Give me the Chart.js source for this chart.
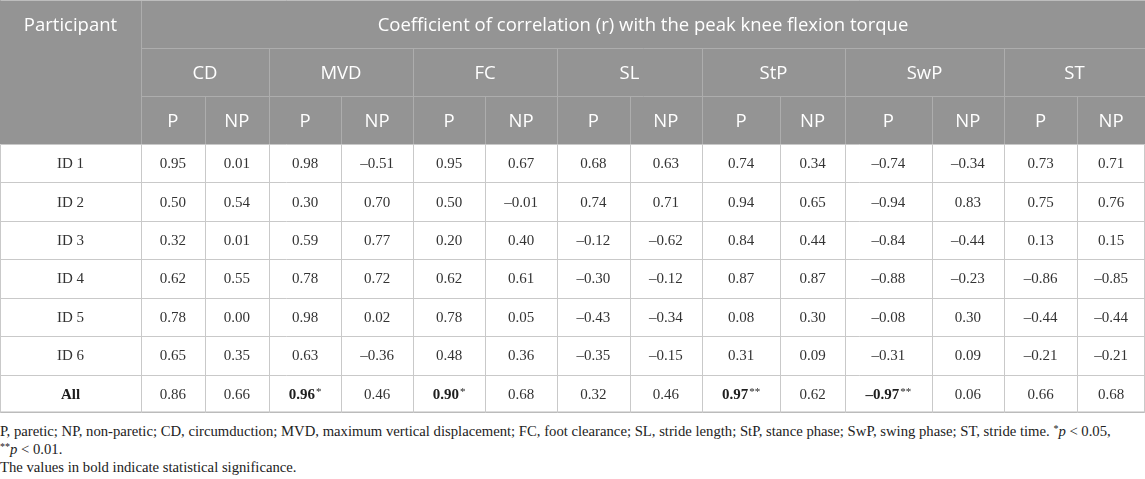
<!DOCTYPE html>
<html lang="en">
  <head>
    <meta charset="UTF-8" />
    <title>Correlation with peak knee flexion torque</title>
    <script src="https://cdn.jsdelivr.net/npm/chart.js"></script>
    <style>
      body {
        margin: 0;
        background: #fff;
        width: 1145px;
        overflow: hidden;
      }
      #table {
        display: block;
      }
      .notes {
        margin-top: 9px;
        font-family: 'Liberation Serif', 'Times New Roman', serif;
        font-size: 14.7px;
        line-height: 18px;
        color: #222;
        white-space: nowrap;
      }
      .notes sup {
        font-size: 10px;
        vertical-align: 4px;
        line-height: 0;
      }
    </style>
  </head>
  <body>
    <canvas id="table" width="1145" height="413"></canvas>
    <div class="notes">
      P, paretic; NP, non-paretic; CD, circumduction; MVD, maximum vertical displacement; FC, foot clearance; SL, stride length; StP, stance phase; SwP, swing phase; ST, stride time. <sup>*</sup><i>p</i> &lt; 0.05,<br />
      <sup>**</sup><i>p</i> &lt; 0.01.<br />
      The values in bold indicate statistical significance.
    </div>

    <script>
      const title = 'Coefficient of correlation (r) with the peak knee flexion torque';
      const participants = ['ID 1', 'ID 2', 'ID 3', 'ID 4', 'ID 5', 'ID 6', 'All'];
      const params = ['CD', 'MVD', 'FC', 'SL', 'StP', 'SwP', 'ST'];
      const sides = ['P', 'NP'];

      const cdP = [0.95, 0.5, 0.32, 0.62, 0.78, 0.65, 0.86];
      const cdNP = [0.01, 0.54, 0.01, 0.55, 0.0, 0.35, 0.66];
      const mvdP = [0.98, 0.3, 0.59, 0.78, 0.98, 0.63, 0.96];
      const mvdNP = [-0.51, 0.7, 0.77, 0.72, 0.02, -0.36, 0.46];
      const fcP = [0.95, 0.5, 0.2, 0.62, 0.78, 0.48, 0.9];
      const fcNP = [0.67, -0.01, 0.4, 0.61, 0.05, 0.36, 0.68];
      const slP = [0.68, 0.74, -0.12, -0.3, -0.43, -0.35, 0.32];
      const slNP = [0.63, 0.71, -0.62, -0.12, -0.34, -0.15, 0.46];
      const stpP = [0.74, 0.94, 0.84, 0.87, 0.08, 0.31, 0.97];
      const stpNP = [0.34, 0.65, 0.44, 0.87, 0.3, 0.09, 0.62];
      const swpP = [-0.74, -0.94, -0.84, -0.88, -0.08, -0.31, -0.97];
      const swpNP = [-0.34, 0.83, -0.44, -0.23, 0.3, 0.09, 0.06];
      const stP = [0.73, 0.75, 0.13, -0.86, -0.44, -0.21, 0.66];
      const stNP = [0.71, 0.76, 0.15, -0.85, -0.44, -0.21, 0.68];

      // significance of the "All" row, one entry per value column
      const sigAll = ['', '', '*', '', '*', '', '', '', '**', '', '**', '', '', ''];

      const columns = [cdP, cdNP, mvdP, mvdNP, fcP, fcNP, slP, slNP, stpP, stpNP, swpP, swpNP, stP, stNP];

      // layout (px units of the scales)
      const colWidths = [141, 63.7, 64.3, 72, 72, 72, 72, 72.7, 72.3, 78, 65, 86.7, 72.3, 73, 68];
      const headHeights = [48, 48.3, 47.7];
      const rowHeight = 38.4;

      const headBg = '#949494';
      const headLine = '#adadad';
      const gridLine = '#c9c9c9';
      const headFont = '18.5px "Open Sans", sans-serif';
      const cellFont = '15px "Liberation Serif", "Times New Roman", serif';
      const boldFont = 'bold 15px "Liberation Serif", "Times New Roman", serif';
      const supFont = '11px "Liberation Serif", "Times New Roman", serif';

      const colEdges = [0];
      colWidths.forEach((w) => colEdges.push(colEdges[colEdges.length - 1] + w));
      const headEdges = [0];
      headHeights.forEach((h) => headEdges.push(headEdges[headEdges.length - 1] + h));
      const headBottom = headEdges[3];
      const rowEdges = participants.map((_, i) => headBottom + i * rowHeight);
      rowEdges.push(headBottom + participants.length * rowHeight);
      const totalW = colEdges[colEdges.length - 1];
      const totalH = rowEdges[rowEdges.length - 1];

      function fmt(v) {
        const s = Math.abs(v).toFixed(2);
        return v < 0 ? '\u2013' + s : s;
      }

      // one point per cell, placed at the cell centre
      const headShift = 2;
      const cells = [];
      cells.push({ x: colWidths[0] / 2, y: headHeights[0] / 2 + headShift, text: 'Participant', kind: 'head' });
      cells.push({ x: (colEdges[1] + totalW) / 2, y: headHeights[0] / 2 + headShift, text: title, kind: 'head' });
      params.forEach((p, i) => {
        cells.push({ x: (colEdges[1 + 2 * i] + colEdges[3 + 2 * i]) / 2, y: (headEdges[1] + headEdges[2]) / 2 + headShift, text: p, kind: 'head' });
        sides.forEach((s, j) => {
          const c = 1 + 2 * i + j;
          cells.push({ x: (colEdges[c] + colEdges[c + 1]) / 2, y: (headEdges[2] + headEdges[3]) / 2 + headShift, text: s, kind: 'head' });
        });
      });
      participants.forEach((name, r) => {
        const yMid = (rowEdges[r] + rowEdges[r + 1]) / 2 + 1;
        const last = r === participants.length - 1;
        cells.push({ x: colWidths[0] / 2, y: yMid, text: name, kind: last ? 'bold' : 'cell' });
        columns.forEach((col, c) => {
          const sig = last ? sigAll[c] : '';
          cells.push({
            x: (colEdges[c + 1] + colEdges[c + 2]) / 2,
            y: yMid,
            text: fmt(col[r]),
            sig: sig,
            kind: sig ? 'bold' : 'cell',
          });
        });
      });

      const tablePlugin = {
        id: 'tablePlugin',
        beforeDatasetsDraw(chart) {
          const { ctx } = chart;
          const xs = chart.scales.x;
          const ys = chart.scales.y;
          const px = (v) => xs.getPixelForValue(v);
          const py = (v) => ys.getPixelForValue(v);
          ctx.save();

          // header background
          ctx.fillStyle = headBg;
          ctx.fillRect(px(0), py(0), px(totalW) - px(0), py(headBottom) - py(0));

          function line(x0, y0, x1, y1, color, width) {
            ctx.strokeStyle = color;
            ctx.lineWidth = width || 1;
            ctx.beginPath();
            ctx.moveTo(Math.round(px(x0)) + 0.5, Math.round(py(y0)) + 0.5);
            ctx.lineTo(Math.round(px(x1)) + 0.5, Math.round(py(y1)) + 0.5);
            ctx.stroke();
          }

          // header lines
          line(colEdges[1], headEdges[1], totalW, headEdges[1], headLine);
          line(colEdges[1], headEdges[2], totalW, headEdges[2], headLine);
          line(colEdges[1], 0, colEdges[1], headBottom, headLine);
          for (let c = 2; c < colEdges.length - 1; c++) {
            const top = c % 2 === 1 ? headEdges[1] : headEdges[2];
            line(colEdges[c], top, colEdges[c], headBottom, headLine);
          }
          line(0, 0, totalW, 0, '#bdbdbd');

          // body grid
          for (let r = 0; r < rowEdges.length; r++) {
            const last = r === rowEdges.length - 1;
            line(0, last ? rowEdges[r] - 1 : rowEdges[r], totalW, last ? rowEdges[r] - 1 : rowEdges[r], last ? '#bbbbbb' : gridLine, last ? 2 : 1);
          }
          for (let c = 0; c < colEdges.length; c++) {
            const xv = c === colEdges.length - 1 ? colEdges[c] - 1 : colEdges[c];
            line(xv, headBottom, xv, totalH, gridLine);
          }
          ctx.restore();
        },
        afterDatasetsDraw(chart) {
          const { ctx } = chart;
          const meta = chart.getDatasetMeta(0);
          ctx.save();
          ctx.textBaseline = 'middle';
          meta.data.forEach((pt, i) => {
            const cell = cells[i];
            if (cell.kind === 'head') {
              ctx.font = headFont;
              ctx.fillStyle = '#ffffff';
              ctx.textAlign = 'center';
              ctx.fillText(cell.text, pt.x, pt.y);
              return;
            }
            ctx.fillStyle = cell.kind === 'bold' ? '#1e1e1e' : '#333333';
            ctx.font = cell.kind === 'bold' ? boldFont : cellFont;
            const w = ctx.measureText(cell.text).width;
            let sw = 0;
            if (cell.sig) {
              ctx.font = supFont;
              sw = ctx.measureText(cell.sig).width + 1;
            }
            const x0 = pt.x - (w + sw) / 2;
            ctx.textAlign = 'left';
            ctx.font = cell.kind === 'bold' ? boldFont : cellFont;
            ctx.fillText(cell.text, x0, pt.y);
            if (cell.sig) {
              ctx.font = supFont;
              ctx.fillText(cell.sig, x0 + w + 1, pt.y - 3);
            }
          });
          ctx.restore();
        },
      };

      new Chart(document.getElementById('table'), {
        type: 'scatter',
        data: {
          datasets: [
            {
              data: cells.map((c) => ({ x: c.x, y: c.y })),
              pointRadius: 0,
              pointHoverRadius: 0,
            },
          ],
        },
        options: {
          responsive: false,
          animation: false,
          events: [],
          layout: { padding: 0 },
          plugins: { legend: { display: false }, tooltip: { enabled: false } },
          scales: {
            x: { type: 'linear', min: 0, max: totalW, display: false },
            y: { type: 'linear', min: 0, max: totalH, reverse: true, display: false },
          },
        },
        plugins: [tablePlugin],
      });
    </script>
  </body>
</html>
